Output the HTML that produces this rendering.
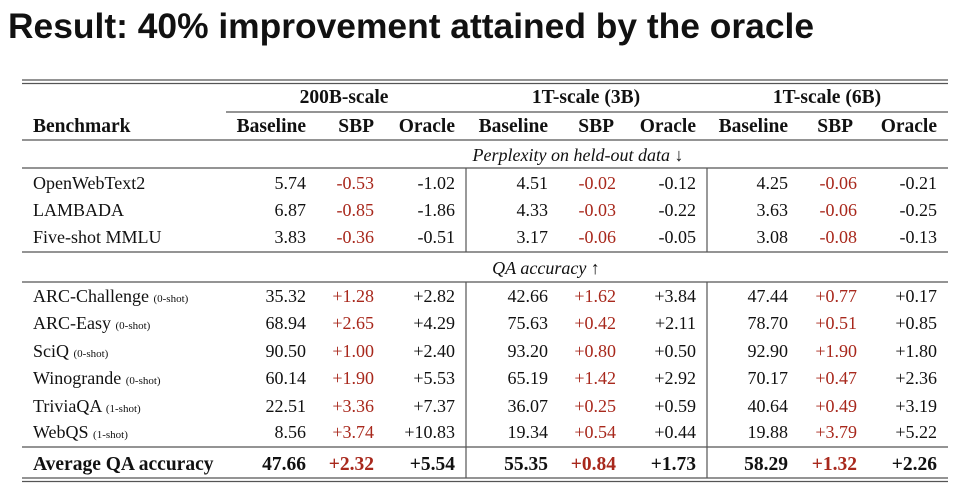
<!DOCTYPE html>
<html><head><meta charset="utf-8"><style>
html,body{margin:0;padding:0;background:#fff;width:960px;height:493px;overflow:hidden}
svg text{font-family:"Liberation Serif",serif;font-size:18px;fill:#111}
.t{font-family:"Liberation Sans",sans-serif;font-weight:bold;font-size:35px}
.b{font-weight:bold;font-size:19.5px}
.r{fill:#a8281c}
.s{font-size:11px}
.e{text-anchor:end}
.m{text-anchor:middle}
</style></head><body>
<svg width="960" height="493" xmlns="http://www.w3.org/2000/svg">
<text class="t" x="8" y="38" textLength="806" lengthAdjust="spacingAndGlyphs">Result: 40% improvement attained by the oracle</text>
<g stroke="#555" stroke-width="1.2">
<line x1="22" y1="80" x2="948" y2="80"/><line x1="22" y1="83.5" x2="948" y2="83.5"/>
<line x1="226" y1="112" x2="948" y2="112"/>
<line x1="22" y1="140" x2="948" y2="140"/>
<line x1="22" y1="168" x2="948" y2="168"/>
<line x1="22" y1="252" x2="948" y2="252"/>
<line x1="22" y1="282" x2="948" y2="282"/>
<line x1="22" y1="447" x2="948" y2="447"/>
<line x1="22" y1="478" x2="948" y2="478"/><line x1="22" y1="481.5" x2="948" y2="481.5"/>
<line x1="466" y1="168" x2="466" y2="252"/><line x1="707" y1="168" x2="707" y2="252"/>
<line x1="466" y1="282" x2="466" y2="478"/><line x1="707" y1="282" x2="707" y2="478"/>
</g>
<g>
<text class="b m" x="344" y="103">200B-scale</text>
<text class="b m" x="586" y="103">1T-scale (3B)</text>
<text class="b m" x="827" y="103">1T-scale (6B)</text>
<text class="b" x="33" y="132">Benchmark</text>
<text class="b e" x="306" y="132">Baseline</text><text class="b e" x="374" y="132">SBP</text><text class="b e" x="455" y="132">Oracle</text>
<text class="b e" x="548" y="132">Baseline</text><text class="b e" x="614" y="132">SBP</text><text class="b e" x="696" y="132">Oracle</text>
<text class="b e" x="788" y="132">Baseline</text><text class="b e" x="853" y="132">SBP</text><text class="b e" x="937" y="132">Oracle</text>
</g>
<text class="m" x="578" y="161" font-style="italic">Perplexity on held-out data ↓</text>
<text class="m" x="546" y="274" font-style="italic">QA accuracy ↑</text>
<g>
<text x="33" y="189">OpenWebText2</text>
<text x="33" y="216">LAMBADA</text>
<text x="33" y="243">Five-shot MMLU</text>
<text x="33" y="302">ARC-Challenge <tspan class="s">(0-shot)</tspan></text>
<text x="33" y="329">ARC-Easy <tspan class="s">(0-shot)</tspan></text>
<text x="33" y="357">SciQ <tspan class="s">(0-shot)</tspan></text>
<text x="33" y="384">Winogrande <tspan class="s">(0-shot)</tspan></text>
<text x="33" y="412">TriviaQA <tspan class="s">(1-shot)</tspan></text>
<text x="33" y="438">WebQS <tspan class="s">(1-shot)</tspan></text>
<text class="b" x="33" y="470">Average QA accuracy</text>
</g>
<g class="e">
<text class="e" x="306" y="189">5.74</text><text class="e r" x="374" y="189">-0.53</text><text class="e" x="455" y="189">-1.02</text>
<text class="e" x="548" y="189">4.51</text><text class="e r" x="616" y="189">-0.02</text><text class="e" x="696" y="189">-0.12</text>
<text class="e" x="788" y="189">4.25</text><text class="e r" x="857" y="189">-0.06</text><text class="e" x="937" y="189">-0.21</text>

<text class="e" x="306" y="216">6.87</text><text class="e r" x="374" y="216">-0.85</text><text class="e" x="455" y="216">-1.86</text>
<text class="e" x="548" y="216">4.33</text><text class="e r" x="616" y="216">-0.03</text><text class="e" x="696" y="216">-0.22</text>
<text class="e" x="788" y="216">3.63</text><text class="e r" x="857" y="216">-0.06</text><text class="e" x="937" y="216">-0.25</text>

<text class="e" x="306" y="243">3.83</text><text class="e r" x="374" y="243">-0.36</text><text class="e" x="455" y="243">-0.51</text>
<text class="e" x="548" y="243">3.17</text><text class="e r" x="616" y="243">-0.06</text><text class="e" x="696" y="243">-0.05</text>
<text class="e" x="788" y="243">3.08</text><text class="e r" x="857" y="243">-0.08</text><text class="e" x="937" y="243">-0.13</text>

<text class="e" x="306" y="302">35.32</text><text class="e r" x="374" y="302">+1.28</text><text class="e" x="455" y="302">+2.82</text>
<text class="e" x="548" y="302">42.66</text><text class="e r" x="616" y="302">+1.62</text><text class="e" x="696" y="302">+3.84</text>
<text class="e" x="788" y="302">47.44</text><text class="e r" x="857" y="302">+0.77</text><text class="e" x="937" y="302">+0.17</text>

<text class="e" x="306" y="329">68.94</text><text class="e r" x="374" y="329">+2.65</text><text class="e" x="455" y="329">+4.29</text>
<text class="e" x="548" y="329">75.63</text><text class="e r" x="616" y="329">+0.42</text><text class="e" x="696" y="329">+2.11</text>
<text class="e" x="788" y="329">78.70</text><text class="e r" x="857" y="329">+0.51</text><text class="e" x="937" y="329">+0.85</text>

<text class="e" x="306" y="357">90.50</text><text class="e r" x="374" y="357">+1.00</text><text class="e" x="455" y="357">+2.40</text>
<text class="e" x="548" y="357">93.20</text><text class="e r" x="616" y="357">+0.80</text><text class="e" x="696" y="357">+0.50</text>
<text class="e" x="788" y="357">92.90</text><text class="e r" x="857" y="357">+1.90</text><text class="e" x="937" y="357">+1.80</text>

<text class="e" x="306" y="384">60.14</text><text class="e r" x="374" y="384">+1.90</text><text class="e" x="455" y="384">+5.53</text>
<text class="e" x="548" y="384">65.19</text><text class="e r" x="616" y="384">+1.42</text><text class="e" x="696" y="384">+2.92</text>
<text class="e" x="788" y="384">70.17</text><text class="e r" x="857" y="384">+0.47</text><text class="e" x="937" y="384">+2.36</text>

<text class="e" x="306" y="412">22.51</text><text class="e r" x="374" y="412">+3.36</text><text class="e" x="455" y="412">+7.37</text>
<text class="e" x="548" y="412">36.07</text><text class="e r" x="616" y="412">+0.25</text><text class="e" x="696" y="412">+0.59</text>
<text class="e" x="788" y="412">40.64</text><text class="e r" x="857" y="412">+0.49</text><text class="e" x="937" y="412">+3.19</text>

<text class="e" x="306" y="438">8.56</text><text class="e r" x="374" y="438">+3.74</text><text class="e" x="455" y="438">+10.83</text>
<text class="e" x="548" y="438">19.34</text><text class="e r" x="616" y="438">+0.54</text><text class="e" x="696" y="438">+0.44</text>
<text class="e" x="788" y="438">19.88</text><text class="e r" x="857" y="438">+3.79</text><text class="e" x="937" y="438">+5.22</text>

<text class="e b" x="306" y="470">47.66</text><text class="e r b" x="374" y="470">+2.32</text><text class="e b" x="455" y="470">+5.54</text>
<text class="e b" x="548" y="470">55.35</text><text class="e r b" x="616" y="470">+0.84</text><text class="e b" x="696" y="470">+1.73</text>
<text class="e b" x="788" y="470">58.29</text><text class="e r b" x="857" y="470">+1.32</text><text class="e b" x="937" y="470">+2.26</text>
</g>
</svg>
</body></html>
